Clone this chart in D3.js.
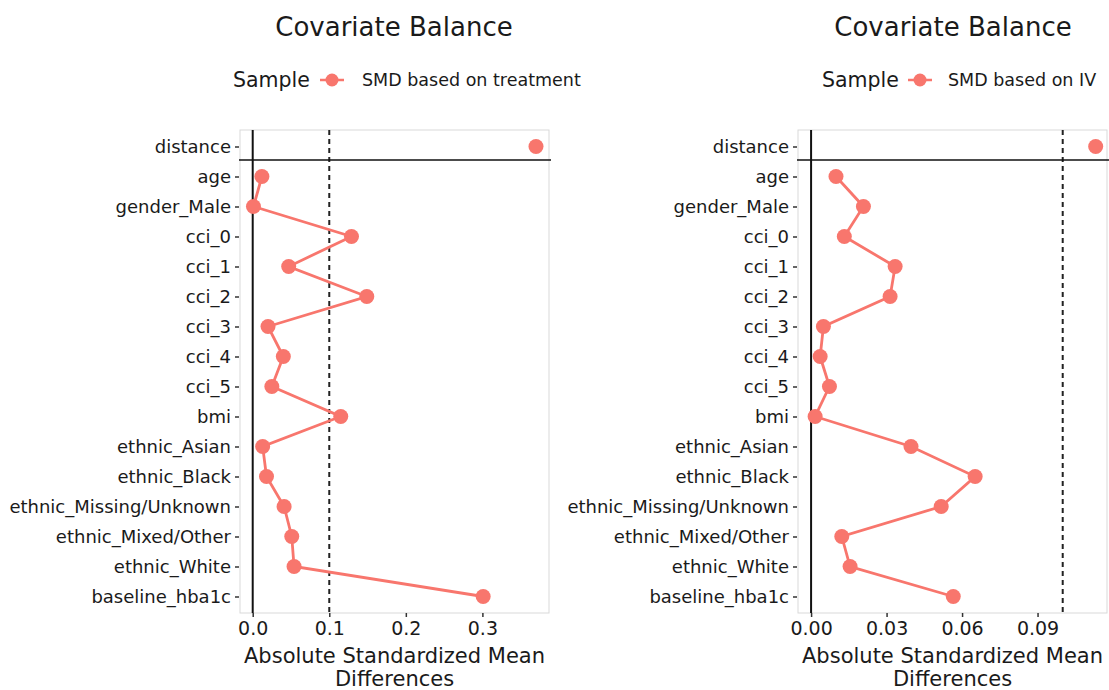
<!DOCTYPE html>
<html>
<head>
<meta charset="utf-8">
<script src="https://cdn.jsdelivr.net/npm/d3@7"></script>
<style>
  body { margin: 0; background: #fff; }
  svg text { font-family: "DejaVu Sans", sans-serif; fill: #1a1a1a; }
</style>
</head>
<body>
<div class="chart"></div>
<script>
// Data
var covariates = ["distance", "age", "gender_Male", "cci_0", "cci_1", "cci_2", "cci_3", "cci_4",
  "cci_5", "bmi", "ethnic_Asian", "ethnic_Black", "ethnic_Missing/Unknown",
  "ethnic_Mixed/Other", "ethnic_White", "baseline_hba1c"];

var smdTreatment = [0.370, 0.012, 0.001, 0.129, 0.047, 0.149, 0.020, 0.040,
  0.025, 0.115, 0.013, 0.018, 0.041, 0.051, 0.054, 0.301];

var smdIV = [0.1131, 0.0099, 0.0208, 0.0132, 0.0334, 0.0314, 0.0049, 0.0036,
  0.0073, 0.0016, 0.0397, 0.0652, 0.0517, 0.0122, 0.0155, 0.0565];

var ticksTreatment = [0, 0.1, 0.2, 0.3];
var ticksIV = [0, 0.03, 0.06, 0.09];

var svgWidth = 1109, svgHeight = 690;
var color = "#F8766D";

var svg = d3.select(".chart")
  .append("svg")
  .attr("width", svgWidth)
  .attr("height", svgHeight);

var panels = [
  {left: 240, right: 549, domain: [-0.0166, 0.387], values: smdTreatment, ticks: ticksTreatment,
   fmt: d3.format(".1f"), label: "SMD based on treatment", titleX: 394, sampleX: 233, keyX: 332, keyTextX: 362},
  {left: 798, right: 1107, domain: [-0.0052, 0.1176], values: smdIV, ticks: ticksIV,
   fmt: d3.format(".2f"), label: "SMD based on IV", titleX: 953, sampleX: 822, keyX: 920, keyTextX: 948}
];

var plotTop = 130, plotBottom = 613;

panels.forEach(function(p) {
  var g = svg.append("g");

  var xScale = d3.scaleLinear().domain(p.domain).range([p.left, p.right]);
  var yScale = d3.scalePoint().domain(covariates).range([plotTop, plotBottom]).padding(0.55);

  // title
  g.append("text")
    .attr("x", p.titleX)
    .attr("y", 27)
    .attr("dy", "0.35em")
    .attr("text-anchor", "middle")
    .style("font-size", "26px")
    .text("Covariate Balance");

  // legend
  g.append("text")
    .attr("x", p.sampleX)
    .attr("y", 80)
    .attr("dy", "0.35em")
    .style("font-size", "20.5px")
    .text("Sample");
  g.append("line")
    .attr("x1", p.keyX - 12).attr("x2", p.keyX + 12)
    .attr("y1", 80).attr("y2", 80)
    .attr("stroke", color).attr("stroke-width", 2.5);
  g.append("circle")
    .attr("cx", p.keyX).attr("cy", 80).attr("r", 6.5)
    .attr("fill", color);
  g.append("text")
    .attr("x", p.keyTextX)
    .attr("y", 80)
    .attr("dy", "0.35em")
    .style("font-size", "17.5px")
    .text(p.label);

  // panel border
  g.append("rect")
    .attr("x", p.left).attr("y", plotTop)
    .attr("width", p.right - p.left).attr("height", plotBottom - plotTop)
    .attr("fill", "none")
    .attr("stroke", "#d9d9d9")
    .attr("stroke-width", 1);

  // axes
  var bottomAxis = d3.axisBottom(xScale).tickValues(p.ticks).tickFormat(p.fmt)
    .tickSize(4).tickPadding(5);
  var xAxis = g.append("g")
    .attr("transform", `translate(0, ${plotBottom})`)
    .call(bottomAxis);
  xAxis.select(".domain").remove();
  xAxis.selectAll("line").attr("stroke", "#333").attr("stroke-width", 1.5);
  xAxis.selectAll("text").style("font-size", "19px").attr("fill", "#333");

  var leftAxis = d3.axisLeft(yScale).tickSize(4).tickPadding(4);
  var yAxis = g.append("g")
    .attr("transform", `translate(${p.left - 1}, 0)`)
    .call(leftAxis);
  yAxis.select(".domain").remove();
  yAxis.selectAll("line").attr("stroke", "#333").attr("stroke-width", 1.5);
  yAxis.selectAll("text").style("font-size", "18px").attr("fill", "#1a1a1a");

  // axis title
  var xt = g.append("text")
    .attr("text-anchor", "middle")
    .style("font-size", "21px");
  xt.append("tspan").attr("x", (p.left + p.right) / 2).attr("y", 663).text("Absolute Standardized Mean");
  xt.append("tspan").attr("x", (p.left + p.right) / 2).attr("y", 686).text("Differences");

  // reference lines
  g.append("line")
    .attr("x1", xScale(0)).attr("x2", xScale(0))
    .attr("y1", plotTop).attr("y2", plotBottom)
    .attr("stroke", "#111").attr("stroke-width", 2);
  g.append("line")
    .attr("x1", xScale(0.1)).attr("x2", xScale(0.1))
    .attr("y1", plotTop).attr("y2", plotBottom)
    .attr("stroke", "#222").attr("stroke-width", 2)
    .attr("stroke-dasharray", "5,4");
  var hy = yScale("distance") + yScale.step() * 0.45;
  g.append("line")
    .attr("x1", p.left - 1).attr("x2", p.right + 2)
    .attr("y1", hy).attr("y2", hy)
    .attr("stroke", "#111").attr("stroke-width", 1.5);

  // connecting line (excludes distance)
  var rows = covariates.map(function(c, i) { return {name: c, value: p.values[i]}; });
  var linePath = d3.line()
    .x(d => xScale(d.value))
    .y(d => yScale(d.name));
  g.append("path")
    .datum(rows.slice(1))
    .attr("d", linePath)
    .attr("fill", "none")
    .attr("stroke", color)
    .attr("stroke-width", 2.8);

  g.selectAll("circle.pt")
    .data(rows)
    .enter()
    .append("circle")
    .attr("class", "pt")
    .attr("cx", d => xScale(d.value))
    .attr("cy", d => yScale(d.name))
    .attr("r", 7.5)
    .attr("fill", color);
});
</script>
</body>
</html>
